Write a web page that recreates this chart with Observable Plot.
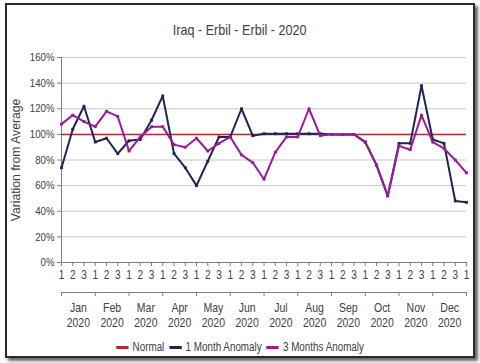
<!DOCTYPE html>
<html>
<head>
<meta charset="utf-8">
<script src="https://cdn.jsdelivr.net/npm/d3@7"></script>
<script src="https://cdn.jsdelivr.net/npm/@observablehq/plot@0.6"></script>
<style>
  html, body { margin: 0; padding: 0; background: #fff; }
  #wrap { position: relative; width: 480px; height: 363px; overflow: hidden;
    font-family: "Liberation Sans Narrow", "Arial Narrow", "Liberation Sans", Arial, sans-serif; color: #404040; }
  #frame { position: absolute; left: 5px; top: 3px; width: 466px; height: 351px;
    border: 2px solid #2a2a2a; box-shadow: 3px 3px 3px #666; background: #fff; }
  #title { position: absolute; left: 0; width: 480px; top: 20px; text-align: center; font-size: 15px; line-height: 20px; }
  #title span { display: inline-block; transform: scaleX(0.84); }
  #ylabel { position: absolute; left: 16px; top: 160px; white-space: nowrap; font-size: 13.5px; line-height: 16px;
    transform: translate(-50%, -50%) rotate(-90deg) scaleX(0.9); }
  #chart { position: absolute; left: 0; top: 40px; }
  #legend { position: absolute; left: 0; width: 480px; top: 339px; display: flex; justify-content: center; }
  #legend .inner { display: flex; align-items: center; font-size: 12px; line-height: 16px; transform: scaleX(0.82); }
  #legend .item { display: flex; align-items: center; margin: 0 3px; }
  #legend .sw { width: 15px; height: 3px; margin-right: 5px; }
</style>
</head>
<body>
<div id="wrap">
  <div id="frame"></div>
  <div id="title"><span></span></div>
  <div id="chart"></div>
  <div id="ylabel"></div>
  <div id="legend"><div class="inner"></div></div>
</div>
<script>
const title = "Iraq - Erbil - Erbil - 2020";
const yAxisLabel = "Variation from Average";
const dekads = ["1","2","3","1","2","3","1","2","3","1","2","3","1","2","3","1","2","3",
                "1","2","3","1","2","3","1","2","3","1","2","3","1","2","3","1","2","3","1"];
const months = ["Jan","Feb","Mar","Apr","May","Jun","Jul","Aug","Sep","Oct","Nov","Dec"];
const year = "2020";
const normal = 100;
const oneMonth = [74,104,122,94,97,85,95,96,111,130,85,74,60,79,98,98,120,99,
                  100.5,100.5,100.5,100.5,100.5,100.5,100,100,100,94,76,52,93,93,138,96,93,48,47];
const threeMonths = [108,115,110,106,118,114,87,98,106,106,92,90,97,87,93,98,84,78,
                     65,86,98,98,120,99,100,100,100,94,76,52,91,88,115,94,89,80,70];
const yTicks = [0,20,40,60,80,100,120,140,160];
const seriesNames = ["Normal","1 Month Anomaly","3 Months Anomaly"];
const colors = ["#b42a2a","#1c2650","#9a1a9a"];

const idx = d3.range(dekads.length);
const monthStarts = d3.range(0, dekads.length, 3);
const rows1 = idx.map(i => ({i, v: oneMonth[i]}));
const rows3 = idx.map(i => ({i, v: threeMonths[i]}));
const monthRows = months.map((m, k) => ({x: k * 3 + 1.5, label: m + "\n" + year}));

document.querySelector("#title span").textContent = title;
document.getElementById("ylabel").textContent = yAxisLabel;

const font = '"Liberation Sans", Arial, sans-serif';
const chart = Plot.plot({
  width: 480, height: 295,
  marginLeft: 61, marginRight: 14, marginTop: 17, marginBottom: 73,
  style: {fontFamily: font, fontSize: "11px", color: "#404040", background: "transparent", overflow: "visible"},
  x: {domain: [0, dekads.length - 1], axis: null},
  y: {domain: [0, 160], axis: null},
  marks: [
    Plot.gridY(yTicks, {stroke: "#c8c8c8", strokeOpacity: 1}),
    Plot.axisY({ticks: yTicks, tickFormat: d => d + "%", tickSize: 4, tickPadding: 3,
      stroke: "#808080", label: null, fontSize: 11.5}),
    Plot.ruleX([0], {stroke: "#808080"}),
    Plot.ruleY([0], {stroke: "#808080"}),
    Plot.axisX({ticks: idx, tickFormat: i => dekads[i], tickSize: 4, tickPadding: 4, stroke: "#808080", fontSize: 12, label: null}),
    Plot.ruleY([0], {x1: 0, x2: dekads.length - 1, dy: 30, stroke: "#808080"}),
    Plot.axisX({ticks: monthStarts, tickFormat: () => "", tickSize: 4, dy: 30, stroke: "#808080", label: null}),
    Plot.text(monthRows, {x: "x", frameAnchor: "bottom", text: "label", dy: 38, lineAnchor: "top", lineHeight: 1.25, fontSize: 12.5, fill: "#404040"}),
    Plot.ruleY([normal], {stroke: colors[0], strokeWidth: 1.5}),
    Plot.line(rows1, {x: "i", y: "v", stroke: colors[1], strokeWidth: 2}),
    Plot.dot(rows1, {x: "i", y: "v", symbol: "square", r: 1.6, fill: colors[1]}),
    Plot.line(rows3, {x: "i", y: "v", stroke: colors[2], strokeWidth: 2}),
    Plot.dot(rows3, {x: "i", y: "v", symbol: "square", r: 1.6, fill: colors[2]})
  ]
});
// narrow the lettering (the original uses a condensed face)
chart.querySelectorAll("text").forEach(t => {
  const tr = t.getAttribute("transform");
  if (tr) t.setAttribute("transform", tr + " scale(0.84,1)");
});
document.getElementById("chart").appendChild(chart);

const legend = document.querySelector("#legend .inner");
seriesNames.forEach((n, k) => {
  const it = document.createElement("div");
  it.className = "item";
  const sw = document.createElement("span");
  sw.className = "sw";
  sw.style.background = colors[k];
  const tx = document.createElement("span");
  tx.textContent = n;
  it.appendChild(sw); it.appendChild(tx);
  legend.appendChild(it);
});
</script>
</body>
</html>
